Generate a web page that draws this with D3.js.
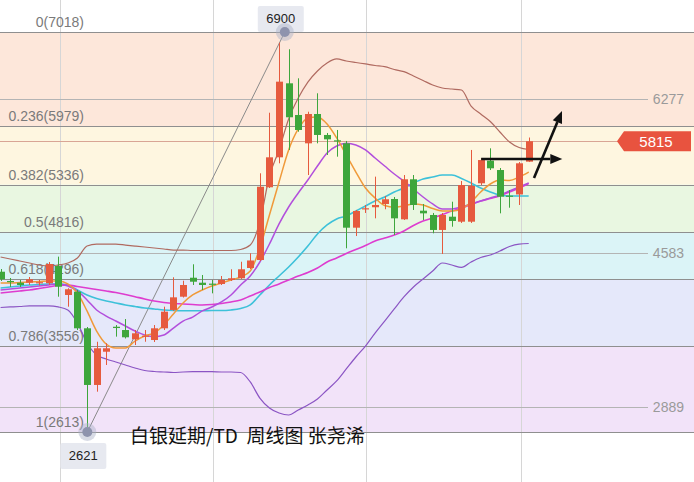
<!DOCTYPE html>
<html><head><meta charset="utf-8">
<script src="https://cdn.jsdelivr.net/npm/d3@7/dist/d3.min.js"></script>
<style>html,body{margin:0;padding:0;background:#fff;overflow:hidden}svg{display:block}</style>
</head><body>
<svg id="c" width="694" height="482"></svg>
<script>
// ---------- DATA ----------
const opens  = [4378,4276,4257,4257,4254,4251,4441,4122,4158,3755,3131,3497,3772,3736,3634,3665,3626,3755,3957,4103,4312,4257,4247,4243,4287,4306,4419,4507,5308,5638,6453,6104,5792,6115,5884,5825,5792,4863,5068,5088,5124,5179,4955,5396,5050,5003,4838,4984,4929,4929,5352,5601,5498,5216,5229,5590];
const highs  = [4408,4309,4287,4320,4287,4485,4544,4196,4177,3769,3607,3590,3791,3857,3736,3736,3791,3993,4317,4279,4460,4342,4287,4331,4405,4488,4581,5462,6129,6900,6828,6508,6140,6343,5906,5939,5818,5058,5113,5425,5212,5201,5443,5443,5124,5025,5025,5149,5377,5719,5630,5737,5520,5278,5586,5856];
const lows   = [4276,4210,4210,4232,4226,4232,4103,3993,3736,2621,3057,3351,3663,3643,3571,3607,3604,3736,3946,4094,4232,4177,4140,4232,4276,4298,4408,4496,5300,5572,5719,5920,5443,5792,5664,5645,4636,4771,5025,4966,5066,4783,4948,5058,4948,4801,4573,4874,4915,4915,5333,5498,5021,5083,5113,5586];
const closes = [4295,4265,4232,4295,4263,4463,4213,4185,3755,3131,3535,3535,3758,3656,3700,3674,3755,3938,4096,4232,4268,4232,4238,4287,4306,4405,4502,5314,5638,6471,6079,5939,6115,5884,5836,5817,4863,5047,5077,5113,5176,4966,5396,5113,5021,4838,5003,4937,5333,5322,5608,5517,5204,5208,5572,5815];

const bollUpper = [4540,4518,4496,4474,4452,4441,4452,4474,4529,4661,4683,4683,4683,4672,4661,4650,4639,4628,4617,4617,4612,4612,4612,4612,4612,4623,4672,4926,5432,5719,6060,6291,6467,6589,6677,6721,6699,6682,6666,6649,6636,6605,6581,6533,6484,6434,6401,6390,6379,6203,6115,6032,5917,5807,5746,5724];
const bollMid   = [4199,4210,4221,4232,4237,4243,4243,4232,4177,4122,4083,4056,4034,4012,3995,3979,3968,3957,3951,3949,3949,3949,3951,3951,3957,3973,4012,4122,4232,4331,4430,4540,4661,4794,4893,4959,4992,5047,5102,5157,5201,5256,5300,5355,5399,5421,5443,5443,5405,5355,5300,5256,5223,5212,5212,5212];
const bollLower = [3984,3990,3995,4001,4001,4001,3990,3957,3813,3593,3461,3417,3384,3351,3318,3290,3279,3274,3268,3274,3277,3277,3277,3274,3274,3268,3164,2987,2877,2822,2800,2855,2910,2976,3076,3175,3307,3439,3560,3703,3835,3968,4100,4210,4298,4386,4474,4452,4425,4485,4535,4562,4606,4656,4683,4689];
const ma5  = [4254,4254,4259,4265,4270,4276,4276,4243,4144,3946,3725,3582,3538,3538,3615,3670,3703,3791,3913,4034,4122,4177,4221,4254,4287,4320,4386,4639,5003,5366,5719,5950,6071,6082,6005,5851,5664,5476,5300,5190,5107,5088,5102,5124,5113,5074,5047,5047,5069,5146,5256,5344,5388,5383,5421,5476];
const ma10 = [4177,4188,4199,4210,4221,4232,4243,4221,4166,4067,3957,3890,3835,3780,3725,3681,3663,3681,3758,3835,3879,3946,3990,4045,4122,4232,4331,4485,4683,4904,5091,5245,5388,5542,5686,5763,5792,5774,5719,5630,5542,5454,5377,5289,5201,5124,5069,5069,5091,5124,5157,5190,5223,5267,5311,5355];
const ma30 = [4144,4155,4166,4177,4193,4210,4226,4232,4215,4199,4182,4166,4149,4127,4103,4078,4056,4039,4028,4023,4017,4012,4017,4028,4045,4067,4111,4155,4204,4243,4287,4331,4370,4419,4485,4529,4579,4623,4667,4716,4749,4783,4827,4887,4937,4970,5008,5047,5080,5118,5157,5184,5212,5256,5300,5350];

const fibRatios = ["0","0.236","0.382","0.5","0.618","0.786","1"];
const fibPrices = [7018,5979,5336,4816,4296,3556,2613];
const bandColors = ["#fde7da","#fef6e0","#e9f7e1","#dbf4f7","#e5e8fa","#f2e3f9"];
const extraLevels = [6277,4583,2889];
const lastPrice = 5815;
const gridIdx = [6.2,22.15,38.1,54.15];
const highMark = {idx:29.6, price:7018, label:"6900"};
const lowMark  = {idx:9.03, price:2613, label:"2621"};
const arrowH = [[50.05,5619],[58.5,5619]];
const arrowD = [[55.55,5410],[58.47,6148]];
const title = "白银延期/TD\u00a0\u00a0周线图 张尧浠";

// ---------- CHART ----------
const W=694,H=482;
const svg=d3.select("#c");
const x=d3.scaleLinear().domain([0,55]).range([0.6,528.7]);
const y=d3.scaleLinear().domain([2613,7018]).range([432,32]);
const font="'Liberation Sans',Arial,sans-serif";

// bands
for(let k=0;k<bandColors.length;k++){
  svg.append("rect").attr("x",0).attr("width",W)
    .attr("y",y(fibPrices[k])).attr("height",y(fibPrices[k+1])-y(fibPrices[k]))
    .attr("fill",bandColors[k]);
}
// vertical grid
svg.selectAll("line.vg").data(gridIdx).enter().append("line")
  .attr("x1",d=>Math.round(x(d))+0.5).attr("x2",d=>Math.round(x(d))+0.5)
  .attr("y1",0).attr("y2",H).attr("stroke","#d6d6d6").attr("stroke-width",1);

// fib lines
svg.selectAll("line.fib").data(fibPrices).enter().append("line")
  .attr("x1",0).attr("x2",W)
  .attr("y1",d=>Math.round(y(d))+0.5).attr("y2",d=>Math.round(y(d))+0.5)
  .attr("stroke","#8f8f8f").attr("stroke-width",1);
// extra levels
svg.selectAll("line.ex").data(extraLevels).enter().append("line")
  .attr("x1",0).attr("x2",648)
  .attr("y1",d=>Math.round(y(d))+0.5).attr("y2",d=>Math.round(y(d))+0.5)
  .attr("stroke","#b4b4b4").attr("stroke-width",1);
svg.selectAll("text.ex").data(extraLevels).enter().append("text")
  .attr("x",684).attr("y",d=>y(d)+5).attr("text-anchor","end")
  .attr("font-family",font).attr("font-size",14).attr("fill","#9a9a9a").text(d=>d);
// last price line
svg.append("line").attr("x1",0).attr("x2",620)
  .attr("y1",Math.round(y(lastPrice))+0.5).attr("y2",Math.round(y(lastPrice))+0.5)
  .attr("stroke","#d9a595").attr("stroke-width",1);

// fib labels
svg.selectAll("text.fib").data(fibPrices).enter().append("text")
  .attr("x",84).attr("y",d=>y(d)-5).attr("text-anchor","end")
  .attr("font-family",font).attr("font-size",14).attr("fill","#7a7a7a")
  .text((d,i)=>fibRatios[i]+"("+d+")");

// trend line between markers
svg.append("line")
  .attr("x1",x(lowMark.idx)).attr("y1",y(lowMark.price))
  .attr("x2",x(highMark.idx)).attr("y2",y(highMark.price))
  .attr("stroke","#8a8a8a").attr("stroke-width",1);

// indicator lines
const lineGen=d3.line().x((d,i)=>x(i)).y(d=>y(d)).curve(d3.curveMonotoneX);
const series=[
  [bollLower,"#8b55c4",1.2],
  [bollUpper,"#b06a60",1.2],
  [bollMid,"#3dc1d9",1.6],
  [ma30,"#de3ccf",1.6],
  [ma10,"#b24fdc",1.5],
  [ma5,"#f09a3a",1.5]
];
series.forEach(([d,c,w])=>{
  svg.append("path").datum(d).attr("d",lineGen).attr("fill","none")
    .attr("stroke",c).attr("stroke-width",w);
});

// candles
const idx=d3.range(opens.length);
const colr=i=>closes[i]>=opens[i]?"#e65a3e":"#3ea63c";
const g=svg.append("g");
g.selectAll("line.w").data(idx).enter().append("line")
  .attr("x1",i=>Math.round(x(i))+0.5).attr("x2",i=>Math.round(x(i))+0.5)
  .attr("y1",i=>y(highs[i])).attr("y2",i=>y(lows[i]))
  .attr("stroke",colr).attr("stroke-width",1);
g.selectAll("rect.b").data(idx).enter().append("rect")
  .attr("x",i=>Math.round(x(i))-3).attr("width",7)
  .attr("y",i=>y(Math.max(opens[i],closes[i])))
  .attr("height",i=>Math.max(1.2,Math.abs(y(opens[i])-y(closes[i]))))
  .attr("fill",colr);

// markers
function marker(m,above){
  const cx=x(m.idx), cy=y(m.price);
  const bw=46,bh=26;
  const by=above?cy-26:cy+11;
  svg.append("rect").attr("x",cx-bw/2-4).attr("y",by).attr("width",bw).attr("height",bh)
    .attr("rx",2).attr("fill","#e4e7ee").attr("fill-opacity",0.9);
  svg.append("text").attr("x",cx-4).attr("y",by+17).attr("text-anchor","middle")
    .attr("font-family",font).attr("font-size",13).attr("fill","#222").text(m.label);
  svg.append("circle").attr("cx",cx).attr("cy",cy).attr("r",9).attr("fill","#a9afc6").attr("fill-opacity",0.45);
  svg.append("circle").attr("cx",cx).attr("cy",cy).attr("r",5).attr("fill","#8e93ad");
}
marker(highMark,true);
marker(lowMark,false);

// arrows
function arrow(a){
  const x1=x(a[0][0]),y1=y(a[0][1]),x2=x(a[1][0]),y2=y(a[1][1]);
  const ang=Math.atan2(y2-y1,x2-x1), L=12, Wd=5;
  const bx=x2-L*Math.cos(ang), by=y2-L*Math.sin(ang);
  svg.append("line").attr("x1",x1).attr("y1",y1).attr("x2",bx).attr("y2",by)
    .attr("stroke","#111").attr("stroke-width",2.6);
  const p=[[x2,y2],[bx+Wd*Math.sin(ang),by-Wd*Math.cos(ang)],[bx-Wd*Math.sin(ang),by+Wd*Math.cos(ang)]];
  svg.append("path").attr("d","M"+p.map(q=>q.join(",")).join("L")+"Z").attr("fill","#111");
}
arrow(arrowH);
arrow(arrowD);

// last price tag
const ty=y(lastPrice);
svg.append("path").attr("d",`M617,${ty}L624,${ty-10}L691,${ty-10}L691,${ty+10}L624,${ty+10}Z`).attr("fill","#e8533f");
svg.append("text").attr("x",656).attr("y",ty+5.5).attr("text-anchor","middle")
  .attr("font-family",font).attr("font-size",15).attr("fill","#fff").text(lastPrice);

// title
svg.append("text").attr("x",130).attr("y",443)
  .attr("font-family","'Noto Sans CJK SC','Noto Sans',sans-serif").attr("font-size",19)
  .attr("fill","#111").text(title);
</script>
</body></html>
